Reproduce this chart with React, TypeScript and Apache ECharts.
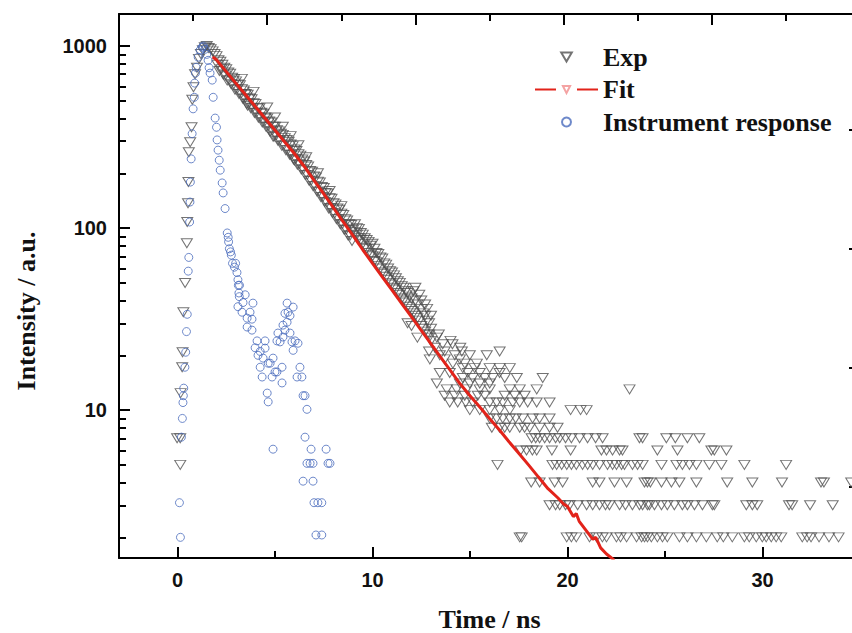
import React, { useEffect, useRef } from 'react';
import * as echarts from 'echarts';

const SERIF = "'Liberation Serif', 'Times New Roman', serif";
const SANS = "'Liberation Sans', Arial, sans-serif";

// ---- axis ticks / labels ----
const X_MAJOR = [0, 10, 20, 30];
const X_MINOR = [5, 15, 25];
const TOP_MAJOR = [1, 2, 3, 4];
const TOP_MINOR = [0.5, 1.5, 2.5, 3.5, 4.5];
const Y_MAJOR = [10, 100, 1000];
const Y_MINOR = [2, 3, 4, 5, 6, 7, 8, 9, 20, 30, 40, 50, 60, 70, 80, 90, 200, 300, 400, 500, 600, 700, 800, 900];
const RIGHT_TICKS = [0, 1, 2, 3];

// ---- Exp: rising edge ----
const expRise: [number, number][] = [
  [-0.02, 7], [0.14, 7], [0.14, 5], [0.16, 12.4], [0.24, 17.2], [0.26, 20.8], [0.3, 34.5],
  [0.39, 49.9], [0.48, 82.5], [0.5, 108], [0.54, 137], [0.56, 179], [0.58, 261], [0.65, 296],
  [0.72, 358], [0.76, 507], [0.82, 594], [0.9, 700],
];

// ---- Exp: peak and decay ----
const expDecay: [number, number][] = [
  [1.0, 760], [1.1, 850], [1.2, 905], [1.3, 950], [1.4, 985], [1.5, 1000], [1.6, 975], [1.7, 960],
  [1.8, 935], [1.9, 905], [2.0, 880], [2.1, 835], [2.2, 820], [2.3, 790], [2.4, 760], [2.5, 745],
  [2.6, 715], [2.7, 705], [2.8, 670], [2.9, 660], [3.0, 640], [3.1, 615], [3.2, 610], [3.3, 580],
  [3.4, 570], [3.5, 545], [3.6, 540], [3.7, 515], [3.8, 510], [3.9, 485], [4.0, 480], [4.1, 455],
  [4.2, 455], [4.3, 430], [4.4, 425], [4.5, 405], [4.6, 400], [4.7, 385], [4.8, 380], [4.9, 360],
  [5.0, 360], [5.1, 345], [5.2, 340], [5.3, 330], [5.4, 325], [5.5, 312], [5.6, 305], [5.7, 298],
  [5.8, 288], [5.9, 282], [6.0, 270], [6.1, 265], [6.2, 255], [6.3, 250], [6.4, 238], [6.5, 232],
  [6.6, 222], [6.7, 218], [6.8, 206], [6.9, 204], [7.0, 192], [7.1, 190], [7.2, 180], [7.3, 178],
  [7.4, 168], [7.5, 166], [7.6, 156], [7.7, 155], [7.8, 146], [7.9, 145], [8.0, 137], [8.1, 135],
  [8.2, 128], [8.3, 126], [8.4, 120], [8.5, 118], [8.6, 112], [8.7, 110], [8.8, 105], [8.9, 104],
  [9.0, 98],
  [9.1, 95], [9.1, 105], [9.2, 92], [9.2, 100], [9.3, 88], [9.3, 99], [9.4, 86], [9.4, 94],
  [9.5, 82], [9.5, 92], [9.6, 78], [9.6, 88], [9.7, 77], [9.7, 86], [9.8, 73], [9.8, 84],
  [9.9, 71], [9.9, 80], [10.0, 70], [10.0, 82], [10.1, 66], [10.1, 77], [10.2, 65], [10.2, 73],
  [10.3, 62], [10.3, 72], [10.4, 60], [10.4, 69], [10.5, 57], [10.5, 68], [10.6, 56], [10.6, 64],
  [10.7, 54], [10.7, 63], [10.8, 52], [10.8, 60], [10.9, 50], [10.9, 58], [11.0, 49], [11.0, 57],
  [11.1, 47], [11.1, 55], [11.2, 46], [11.2, 53], [11.3, 44], [11.3, 51], [11.4, 43], [11.4, 50],
  [11.5, 41], [11.5, 48], [11.6, 40], [11.6, 47], [11.7, 39], [11.7, 45], [11.8, 37], [11.8, 44],
  [11.8, 30], [11.9, 36], [11.9, 42], [12.0, 35], [12.0, 41], [12.0, 29], [12.1, 34], [12.1, 45],
  [12.2, 33], [12.2, 40], [12.2, 47], [12.3, 32], [12.3, 38], [12.3, 25], [12.4, 31], [12.4, 43],
  [12.5, 29], [12.5, 36], [12.5, 40], [12.6, 28], [12.6, 34], [12.7, 27], [12.7, 33], [12.7, 38],
  [12.8, 26], [12.8, 31], [12.8, 36], [12.9, 25], [12.9, 30], [12.9, 21], [13.0, 24], [13.0, 28],
  [13.0, 33],
];

// ---- Exp: interleaved channels of the decay (lower side of the band) ----
const expDecayLower: [number, number][] = [
  [2.05, 790], [2.15, 730], [2.25, 745], [2.35, 698], [2.45, 690], [2.55, 646], [2.65, 650],
  [2.75, 618], [2.85, 610], [2.95, 575], [3.05, 580], [3.15, 546], [3.25, 545], [3.35, 513],
  [3.45, 515], [3.55, 480], [3.65, 485], [3.75, 456], [3.85, 458], [3.95, 429], [4.05, 430],
  [4.15, 404], [4.25, 405], [4.35, 380], [4.45, 382], [4.55, 359], [4.65, 362], [4.75, 338],
  [4.85, 342], [4.95, 318], [5.05, 322], [5.15, 302], [5.25, 302], [5.35, 283], [5.45, 285],
  [5.55, 268], [5.65, 268], [5.75, 253], [5.85, 253], [5.95, 238], [6.05, 240], [6.15, 223],
  [6.25, 224], [6.35, 210], [6.45, 210], [6.55, 196], [6.65, 196], [6.75, 182], [6.85, 182],
  [6.95, 170], [7.05, 170], [7.15, 159], [7.25, 158], [7.35, 148], [7.45, 148], [7.55, 139],
  [7.65, 138], [7.75, 128], [7.85, 129], [7.95, 121], [8.05, 120], [8.15, 112], [8.25, 112],
  [8.35, 105], [8.45, 105], [8.55, 98], [8.65, 98], [8.75, 91], [8.85, 91], [8.95, 85],
];

// ---- Exp: scattered channels off the band ----
const expDecayOutliers: [number, number][] = [
  [3.3, 660], [3.6, 470], [3.9, 560], [4.6, 460], [4.9, 318], [5.0, 405], [5.4, 360],
  [5.8, 320], [6.0, 235], [6.2, 285], [6.6, 245], [7.2, 200], [7.8, 160], [8.4, 132],
];

// ---- Exp: tail, counts in rows ----
const expTailRows: { count: number; times: number[] }[] = [
  { count: 2, times: [17.55, 17.65, 19.96, 20.2, 20.45, 21.13, 21.49, 21.79, 22.0, 22.51, 22.72, 23.03, 23.54, 23.8, 23.95, 24.1, 24.3, 24.61, 24.87, 25.12, 25.74, 26.15, 26.61, 27.12, 27.68, 27.99, 28.45, 29.07, 29.32, 29.68, 29.99, 30.19, 30.45, 30.7, 30.96, 32.04, 32.29, 32.49, 32.9, 33.41, 33.9] },
  { count: 3, times: [19.08, 19.39, 19.6, 19.9, 20.11, 20.52, 20.98, 21.29, 21.64, 21.95, 22.15, 22.67, 22.97, 23.33, 23.69, 23.85, 24.1, 24.2, 24.46, 24.82, 25.12, 25.48, 25.89, 26.15, 26.51, 26.92, 27.43, 27.53, 29.17, 29.48, 29.73, 31.36, 31.52, 32.44, 33.6] },
  { count: 4, times: [18.14, 18.57, 19.34, 19.75, 21.29, 21.64, 22.41, 23.03, 23.95, 24.1, 24.25, 24.82, 25.33, 25.74, 26.61, 28.19, 29.48, 31.0, 33.0, 33.15, 34.55] },
  { count: 5, times: [16.41, 19.23, 19.44, 19.7, 19.96, 20.2, 20.45, 20.77, 21.03, 21.29, 21.64, 22.05, 22.31, 22.51, 22.77, 22.92, 23.33, 23.59, 23.85, 24.82, 25.59, 25.89, 26.25, 26.61, 27.27, 27.89, 29.07, 31.21] },
  { count: 6, times: [17.6, 17.9, 18.2, 18.42, 19.2, 20.16, 21.74, 22.0, 22.31, 22.67, 22.82, 24.61, 25.64, 27.38, 27.53, 28.15] },
  { count: 7, times: [18.16, 18.37, 18.57, 18.83, 19.08, 19.39, 19.6, 19.9, 20.2, 20.62, 21.03, 21.44, 21.8, 23.69, 23.85, 25.07, 25.53, 26.15, 26.76] },
  { count: 8, times: [16.12, 16.52, 16.78, 17.04, 17.55, 17.8, 18.06, 18.57, 19.08, 19.49] },
  { count: 9, times: [16.01, 16.37, 16.68, 17.04, 17.34, 17.7, 18.21, 18.57, 19.08] },
  { count: 10, times: [14.99, 15.5, 16.01, 16.52, 17.04, 20.16, 20.67, 20.98] },
  { count: 11, times: [13.96, 14.37, 14.78, 15.14, 16.01, 16.37, 16.68, 17.19, 17.55, 17.96, 18.42, 19.08] },
  { count: 12, times: [13.7, 14.22, 14.73, 15.4, 15.76, 16.78, 17.29, 17.8] },
  { count: 13, times: [13.81, 14.32, 14.83, 15.5, 16.01, 17.04, 17.55, 18.42, 23.18] },
  { count: 14, times: [13.3, 14.48, 14.99, 15.5, 16.01] },
  { count: 15, times: [14.63, 15.14, 15.76, 16.17, 16.78, 17.4, 18.73] },
  { count: 16, times: [13.45, 13.96, 14.89, 15.5, 16.52] },
  { count: 17, times: [14.63, 15.24, 16.01, 16.52, 17.04] },
  { count: 18, times: [14.12, 14.73, 15.35] },
  { count: 19, times: [12.94, 13.7, 14.48] },
  { count: 20, times: [13.45, 14.22, 14.99, 15.86] },
  { count: 21, times: [13.7, 14.58, 16.52] },
  { count: 22, times: [13.2, 14.5] },
  { count: 23, times: [13.6, 14.1] },
  { count: 24, times: [14.0] },
  { count: 25, times: [13.3] },
  { count: 26, times: [12.9, 13.4] },
];

// ---- Fit curve ----
const fitPoints: [number, number][] = [
  [1.8, 870], [2.0, 840], [2.5, 724], [3.0, 624], [3.5, 538], [4.0, 464], [4.5, 400], [5.0, 345],
  [5.5, 297], [6.0, 256], [6.5, 218], [7.0, 183], [7.5, 154], [8.0, 129], [8.5, 108], [9.0, 91],
  [9.5, 76], [10.0, 64], [10.5, 54], [11.0, 45.6], [11.5, 38.5], [12.0, 32.5], [12.5, 27.4],
  [13.0, 23.1], [13.5, 19.5], [14.0, 16.5], [14.5, 13.9], [15.0, 12.0], [15.5, 10.4], [16.0, 9.0],
  [16.5, 7.8], [17.0, 6.7], [17.5, 5.8], [18.0, 5.0], [18.5, 4.3], [19.0, 3.7], [19.5, 3.3],
  [19.8, 3.05], [20.0, 2.95], [20.3, 2.6], [20.45, 2.7], [20.6, 2.45], [21.0, 2.15], [21.3, 1.95],
  [21.45, 2.0], [21.7, 1.75], [22.0, 1.62], [22.4, 1.5],
];

// ---- Instrument response ----
const irfPoints: [number, number][] = [
  [0.1, 3.1], [0.15, 2.0], [0.2, 7.1], [0.25, 9], [0.28, 11], [0.3, 12], [0.32, 13.2], [0.38, 17.2],
  [0.42, 20.8], [0.46, 27], [0.5, 33.6], [0.55, 58], [0.58, 69], [0.62, 108], [0.64, 139],
  [0.66, 179], [0.7, 240], [0.75, 330], [0.8, 452], [0.86, 523], [0.88, 626], [0.92, 710],
  [0.96, 764], [1.06, 869], [1.16, 950], [1.26, 985], [1.32, 1000], [1.42, 960], [1.5, 900],
  [1.57, 835], [1.62, 760], [1.67, 710], [1.78, 650], [1.83, 523], [1.93, 402], [2.0, 358],
  [2.03, 305], [2.08, 268], [2.14, 236], [2.19, 208], [2.29, 177], [2.34, 156], [2.44, 128],
  [2.55, 94], [2.6, 89], [2.62, 84], [2.66, 77], [2.72, 74], [2.76, 71], [2.82, 64], [2.92, 61],
  [2.98, 64], [3.05, 57], [3.1, 52], [3.12, 48.5], [3.18, 48.5], [3.15, 44], [3.17, 42], [3.1, 37],
  [3.36, 39], [3.47, 43], [3.31, 34.5], [3.57, 32], [3.57, 28.6], [3.72, 34.5], [3.82, 31.6],
  [3.82, 27.5], [3.87, 38.7], [3.98, 22], [4.08, 24], [4.13, 20], [4.24, 21], [4.24, 17.2],
  [4.34, 15.2], [4.39, 19.3], [4.49, 24], [4.49, 21.9], [4.6, 12.4], [4.65, 11.1], [4.65, 18.1],
  [4.75, 18.1], [4.85, 15.2], [4.9, 19.3], [4.9, 6.1], [5.0, 16.2], [5.1, 16.2], [5.1, 24],
  [5.15, 26.5], [5.26, 23.7], [5.36, 17.2], [5.36, 14.1], [5.41, 25.2], [5.41, 29.3], [5.51, 27.5],
  [5.51, 34], [5.62, 30.4], [5.62, 38.7], [5.67, 34.5], [5.77, 33], [5.77, 26.5], [5.87, 23.7],
  [5.93, 36.8], [5.93, 21.3], [6.03, 24], [6.13, 15.2], [6.18, 23.3], [6.28, 17.2], [6.38, 15.2],
  [6.44, 12], [6.44, 4.07], [6.54, 12], [6.54, 7.1], [6.64, 10.1], [6.64, 5.1], [6.8, 5.1],
  [6.85, 6.1], [6.95, 5.1], [6.95, 4.07], [7.0, 3.1], [7.1, 2.06], [7.2, 3.1], [7.4, 3.1],
  [7.4, 2.06], [7.62, 6.1], [7.72, 5.1], [7.82, 5.1],
];

const expPoints: [number, number][] = [
  ...expRise,
  ...expDecay,
  ...expDecayLower,
  ...expDecayOutliers,
  ...expTailRows.flatMap((row) => row.times.map((t) => [t, row.count] as [number, number])),
];

const axisLineStyle = { color: '#000', width: 2 };
const tickFont = { fontFamily: SANS, fontWeight: 'bold' as const, fontSize: 20, color: '#111' };
const nameFont = { fontFamily: SERIF, fontWeight: 'bold' as const, fontSize: 26, color: '#111' };

const DOWN_TRIANGLE = 'path://M0,0L10,0L5,8.5Z';

const option: any = {
  animation: false,
  backgroundColor: '#fff',
  grid: { left: 119, top: 14, right: -8, bottom: 75, containLabel: false, outerBoundsMode: 'none' },
  legend: {
    orient: 'vertical',
    left: 534,
    top: 44,
    padding: 0,
    itemGap: 6.5,
    itemWidth: 63,
    itemHeight: 9,
    symbolKeepAspect: true,
    selectedMode: false,
    lineStyle: { type: [21, 21] },
    textStyle: { fontFamily: SERIF, fontWeight: 'bold', fontSize: 26, lineHeight: 26, color: '#111' },
    data: [
      { name: 'Exp', icon: DOWN_TRIANGLE },
      { name: 'Fit', lineStyle: { type: [21, 21] } },
      { name: 'Instrument response' },
    ],
  },
  xAxis: [
    {
      type: 'value', position: 'bottom', min: -3, max: 35,
      axisLine: { show: true, onZero: false, lineStyle: axisLineStyle },
      axisTick: { show: true, inside: true, length: 11, customValues: X_MAJOR, lineStyle: axisLineStyle },
      axisLabel: { show: true, customValues: X_MAJOR, margin: 12, ...tickFont },
      splitLine: { show: false },
      name: 'Time / ns', nameLocation: 'middle', nameGap: 48, nameTextStyle: nameFont,
    },
    {
      type: 'value', position: 'bottom', min: -3, max: 35,
      axisLine: { show: false, onZero: false },
      axisTick: { show: true, inside: true, length: 7, customValues: X_MINOR, lineStyle: axisLineStyle },
      axisLabel: { show: false },
      splitLine: { show: false },
    },
    {
      type: 'value', position: 'top', min: 0, max: 5,
      axisLine: { show: true, onZero: false, lineStyle: axisLineStyle },
      axisTick: { show: true, inside: true, length: 11, customValues: TOP_MAJOR, lineStyle: axisLineStyle },
      axisLabel: { show: false },
      splitLine: { show: false },
    },
    {
      type: 'value', position: 'top', min: 0, max: 5,
      axisLine: { show: false, onZero: false },
      axisTick: { show: true, inside: true, length: 7, customValues: TOP_MINOR, lineStyle: axisLineStyle },
      axisLabel: { show: false },
      splitLine: { show: false },
    },
  ],
  yAxis: [
    {
      type: 'log', position: 'left', min: 1.54, max: 1500, logBase: 10,
      axisLine: { show: true, onZero: false, lineStyle: axisLineStyle },
      axisTick: { show: true, inside: true, length: 11, customValues: Y_MAJOR, lineStyle: axisLineStyle },
      axisLabel: { show: true, customValues: Y_MAJOR, margin: 12, formatter: (v: number) => String(Math.round(v)), ...tickFont },
      splitLine: { show: false },
      name: 'Intensity / a.u.', nameLocation: 'middle', nameGap: 80,
      nameTextStyle: { ...nameFont, padding: [0, 50, 0, 0] },
    },
    {
      type: 'log', position: 'left', min: 1.54, max: 1500, logBase: 10,
      axisLine: { show: false, onZero: false },
      axisTick: { show: true, inside: true, length: 7, customValues: Y_MINOR, lineStyle: axisLineStyle },
      axisLabel: { show: false },
      splitLine: { show: false },
    },
    {
      type: 'value', position: 'right', min: -0.6, max: 3.97,
      axisLine: { show: true, onZero: false, lineStyle: axisLineStyle },
      axisTick: { show: true, inside: true, length: 11, customValues: RIGHT_TICKS, lineStyle: axisLineStyle },
      axisLabel: { show: false },
      splitLine: { show: false },
    },
  ],
  series: [
    {
      name: 'Exp', type: 'scatter', xAxisIndex: 0, yAxisIndex: 0, z: 2,
      symbol: 'triangle', symbolRotate: 180, symbolSize: [11, 9], symbolKeepAspect: true,
      itemStyle: { color: 'rgba(0,0,0,0)', borderColor: '#505050', borderWidth: 1 },
      emphasis: { disabled: true },
      data: expPoints,
    },
    {
      name: 'Fit', type: 'line', xAxisIndex: 0, yAxisIndex: 0, z: 3,
      showSymbol: false, symbol: 'triangle', symbolRotate: 180, symbolSize: 6,
      lineStyle: { color: '#e2231a', width: 3 },
      itemStyle: { color: '#fff', borderColor: '#f4a3a3', borderWidth: 1 },
      emphasis: { disabled: true },
      data: fitPoints,
    },
    {
      name: 'Instrument response', type: 'scatter', xAxisIndex: 0, yAxisIndex: 0, z: 4,
      symbol: 'circle', symbolSize: 8,
      itemStyle: { color: 'rgba(0,0,0,0)', borderColor: '#4a6bbd', borderWidth: 1 },
      emphasis: { disabled: true },
      data: irfPoints,
    },
  ],
};

export default function App() {
  const ref = useRef<HTMLDivElement>(null);
  useEffect(() => {
    if (!ref.current) return;
    const chart = echarts.init(ref.current, null, { renderer: 'svg' });
    chart.setOption(option);
    return () => chart.dispose();
  }, []);
  return (
    <div
      ref={ref}
      style={{ position: 'absolute', left: 0, top: 0, width: 852, height: 633, background: '#fff' }}
    />
  );
}
